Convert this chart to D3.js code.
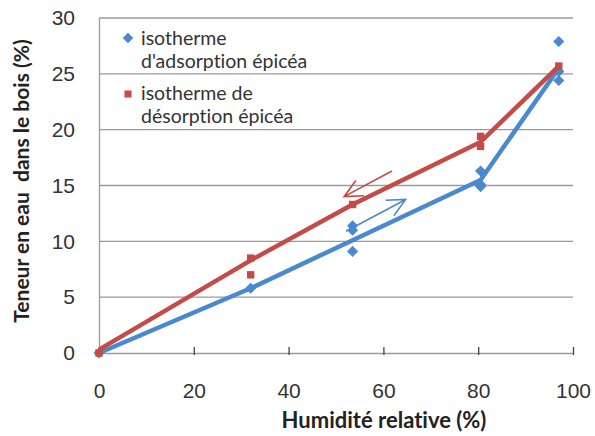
<!DOCTYPE html>
<html>
<head>
<meta charset="utf-8">
<script src="https://cdn.jsdelivr.net/npm/d3@7"></script>
<style>
  body { margin: 0; background: #fff; }
  svg { font-family: Lato, "Open Sans", sans-serif; font-variant-ligatures: none; }
</style>
</head>
<body>
<svg id="chart"></svg>
<script>
// measured points (humidite relative %, teneur en eau %)
var adsX = [0, 32, 53.5, 53.5, 53.5, 80.5, 80.5, 80.5, 97, 97, 97];
var adsY = [0, 5.8, 11.4, 11.0, 9.1, 16.3, 15.1, 14.9, 27.9, 25.2, 24.4];
var desX = [0, 32, 32, 53.5, 80.5, 80.5, 97];
var desY = [0, 8.5, 7.0, 13.3, 19.4, 18.5, 25.7];
// lines drawn through the points
var adsLineX = [0, 32, 53.5, 80.5, 97];
var adsLineY = [0, 5.8, 10.1, 15.5, 25.5];
var desLineX = [0, 32, 53.5, 80.5, 97];
var desLineY = [0.3, 8.3, 13.3, 18.9, 25.7];
var xTicks = [0, 20, 40, 60, 80, 100];
var yTicks = [0, 5, 10, 15, 20, 25, 30];
// hand-drawn arrows [x1, y1, x2(tip), y2(tip)]
var arrowDes = [61.8, 16.3, 51.7, 14.0];
var arrowAds = [52.1, 10.9, 64.7, 13.75];

var blue = "#4a88d0", red = "#c44b48";

var W = 595, H = 436;
var margin = {top: 18, right: 22, bottom: 83, left: 99};
var width = W - margin.left - margin.right,
    height = H - margin.top - margin.bottom;

var svg = d3.select("#chart").attr("width", W).attr("height", H);
var g = svg.append("g").attr("transform", "translate(" + margin.left + "," + margin.top + ")");

var x = d3.scaleLinear().domain([0, 100]).range([0, width]);
var y = d3.scaleLinear().domain([0, 30]).range([height, 0]);

// gridlines
g.append("g").selectAll("line")
  .data(yTicks.slice(1))
  .enter().append("line")
  .attr("x1", 0).attr("x2", width)
  .attr("y1", function(d) { return y(d); })
  .attr("y2", function(d) { return y(d); })
  .attr("stroke", "#9a9a9a").attr("stroke-width", 1.3);

// y axis
var yAxis = g.append("g")
  .call(d3.axisLeft(y).tickValues(yTicks).tickSize(0).tickPadding(24));
yAxis.select(".domain").attr("stroke", "#9a9a9a").attr("stroke-width", 1.3);
yAxis.selectAll("text").attr("font-size", 21).attr("fill", "#333");

// x axis
var xAxis = g.append("g")
  .attr("transform", "translate(0," + height + ")")
  .call(d3.axisBottom(x).tickValues(xTicks).tickSize(0).tickPadding(30));
xAxis.select(".domain").attr("stroke", "#9a9a9a").attr("stroke-width", 1.3);
xAxis.selectAll("text").attr("font-size", 21).attr("fill", "#333");
xAxis.selectAll(".tick").filter(function(d) { return d > 0; })
  .append("line").attr("y1", -6).attr("y2", 2).attr("stroke", "#444").attr("stroke-width", 1.3);

var line = d3.line()
  .x(function(d) { return x(d[0]); })
  .y(function(d) { return y(d[1]); });

function series(px, py, lx, ly, color, marker) {
  g.append("path")
    .datum(d3.zip(lx, ly))
    .attr("d", line)
    .attr("fill", "none")
    .attr("stroke", color)
    .attr("stroke-width", 4.5)
    .attr("stroke-linejoin", "round");
  g.append("g").selectAll("path")
    .data(d3.zip(px, py))
    .enter().append("path")
    .attr("d", d3.symbol().type(d3.symbolSquare).size(marker === "diamond" ? 62 : 55))
    .attr("transform", function(d) {
      return "translate(" + x(d[0]) + "," + y(d[1]) + ")" + (marker === "diamond" ? " rotate(45)" : "");
    })
    .attr("fill", color);
}

series(adsX, adsY, adsLineX, adsLineY, blue, "diamond");
series(desX, desY, desLineX, desLineY, red, "square");

// arrows
function arrow(a, color) {
  var x1 = x(a[0]), y1 = y(a[1]), x2 = x(a[2]), y2 = y(a[3]);
  var ang = Math.atan2(y2 - y1, x2 - x1), L = 20, spread = 0.45;
  var p = "M" + x1 + "," + y1 + "L" + x2 + "," + y2 +
    "M" + (x2 - L * Math.cos(ang - spread)) + "," + (y2 - L * Math.sin(ang - spread)) +
    "L" + x2 + "," + y2 +
    "L" + (x2 - L * Math.cos(ang + spread)) + "," + (y2 - L * Math.sin(ang + spread));
  g.append("path").attr("d", p).attr("fill", "none")
    .attr("stroke", color).attr("stroke-width", 1.6);
}
arrow(arrowDes, red);
arrow(arrowAds, blue);

// legend
var leg = svg.append("g").attr("font-size", 19.5).attr("fill", "#333");
leg.append("path")
  .attr("d", d3.symbol().type(d3.symbolSquare).size(55))
  .attr("transform", "translate(128,38) rotate(45)").attr("fill", blue);
leg.append("text").attr("x", 141).attr("y", 45).text("isotherme");
leg.append("text").attr("x", 141).attr("y", 68).text("d'adsorption épicéa");
leg.append("path")
  .attr("d", d3.symbol().type(d3.symbolSquare).size(50))
  .attr("transform", "translate(128,94)").attr("fill", red);
leg.append("text").attr("x", 141).attr("y", 100).text("isotherme de");
leg.append("text").attr("x", 141).attr("y", 123).text("désorption épicéa");

// axis titles
svg.append("text")
  .attr("x", 384).attr("y", 428)
  .attr("text-anchor", "middle").attr("font-size", 22).attr("font-weight", "bold").attr("fill", "#222")
  .text("Humidité relative (%)");
svg.append("text")
  .attr("transform", "translate(29,181) rotate(-90)")
  .attr("text-anchor", "middle").attr("font-size", 21).attr("font-weight", "bold").attr("fill", "#222")
  .attr("xml:space", "preserve")
  .text("Teneur en eau  dans le bois (%)");
</script>
</body>
</html>
